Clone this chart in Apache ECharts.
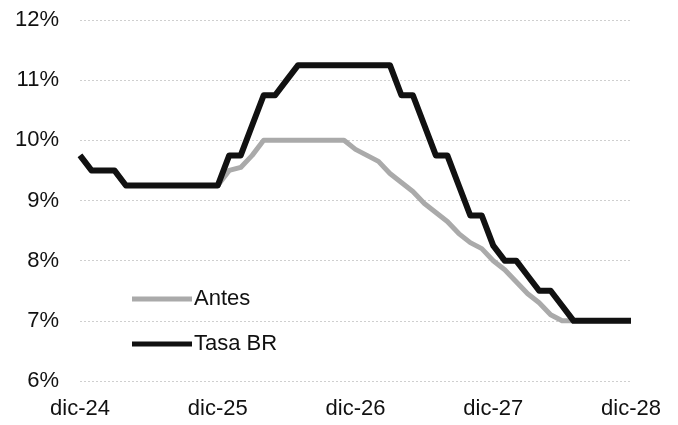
<!DOCTYPE html>
<html>
<head>
<meta charset="utf-8">
<script src="https://cdn.jsdelivr.net/npm/echarts@6/dist/echarts.min.js"></script>
<style>html,body{margin:0;padding:0;background:#fff}#c{width:678px;height:425px}</style>
</head>
<body>
<div id="c"></div>
<script>
const months = ['ene','feb','mar','abr','may','jun','jul','ago','sep','oct','nov','dic'];
const categories = ['dic-24'];
for (let y = 25; y <= 28; y++) { for (const m of months) categories.push(m + '-' + y); }

const antes = [
  9.75, 9.5, 9.5, 9.5, 9.25, 9.25, 9.25, 9.25, 9.25, 9.25, 9.25, 9.25,
  9.25, 9.5, 9.55, 9.75, 10.0, 10.0, 10.0, 10.0, 10.0, 10.0, 10.0, 10.0,
  9.85, 9.75, 9.65, 9.45, 9.3, 9.15, 8.95, 8.8, 8.65, 8.45, 8.3, 8.2,
  8.0, 7.85, 7.65, 7.45, 7.3, 7.1, 7.0, 7.0, 7.0, 7.0, 7.0, 7.0, 7.0
];
const tasaBR = [
  9.75, 9.5, 9.5, 9.5, 9.25, 9.25, 9.25, 9.25, 9.25, 9.25, 9.25, 9.25,
  9.25, 9.75, 9.75, 10.25, 10.75, 10.75, 11.0, 11.25, 11.25, 11.25, 11.25, 11.25,
  11.25, 11.25, 11.25, 11.25, 10.75, 10.75, 10.25, 9.75, 9.75, 9.25, 8.75, 8.75,
  8.25, 8.0, 8.0, 7.75, 7.5, 7.5, 7.25, 7.0, 7.0, 7.0, 7.0, 7.0, 7.0
];
const yTicks = [6, 7, 8, 9, 10, 11, 12];

const font = '"Liberation Sans", Arial, sans-serif';
const chart = echarts.init(document.getElementById('c'), null, {renderer: 'canvas'});
chart.setOption({
  animation: false,
  backgroundColor: '#fff',
  grid: {left: 80, right: 47, top: 20, bottom: 44, containLabel: false},
  legend: {
    orient: 'vertical', left: 127, top: 283,
    itemWidth: 60, itemHeight: 5, itemGap: 23,
    textStyle: {fontFamily: font, fontSize: 22, color: '#111', padding: [0,0,0,-3]},
    data: [
      {name: 'Antes', icon: 'rect', itemStyle: {color: '#aaaaaa'}},
      {name: 'Tasa BR', icon: 'rect', itemStyle: {color: '#111'}}
    ]
  },
  xAxis: {
    type: 'category', data: categories, boundaryGap: false,
    axisLine: {show: false}, axisTick: {show: false},
    axisLabel: {interval: 11, fontFamily: font, fontSize: 22, color: '#111', margin: 17},
    splitLine: {show: false}
  },
  yAxis: {
    type: 'value', min: yTicks[0], max: yTicks[yTicks.length - 1], interval: 1,
    axisLine: {show: false}, axisTick: {show: false},
    axisLabel: {formatter: '{value}%', fontFamily: font, fontSize: 22, color: '#111', margin: 21},
    splitLine: {lineStyle: {color: '#cfcfcf', width: 1, type: [2, 2]}}
  },
  series: [
    {name: 'Antes', type: 'line', data: antes, showSymbol: false, symbol: 'none',
     lineStyle: {color: '#aaaaaa', width: 5, join: 'round'}, itemStyle: {color: '#aaaaaa'}, z: 2},
    {name: 'Tasa BR', type: 'line', data: tasaBR, showSymbol: false, symbol: 'none',
     lineStyle: {color: '#111', width: 6, join: 'round'}, itemStyle: {color: '#111'}, z: 3}
  ]
});
</script>
</body>
</html>
